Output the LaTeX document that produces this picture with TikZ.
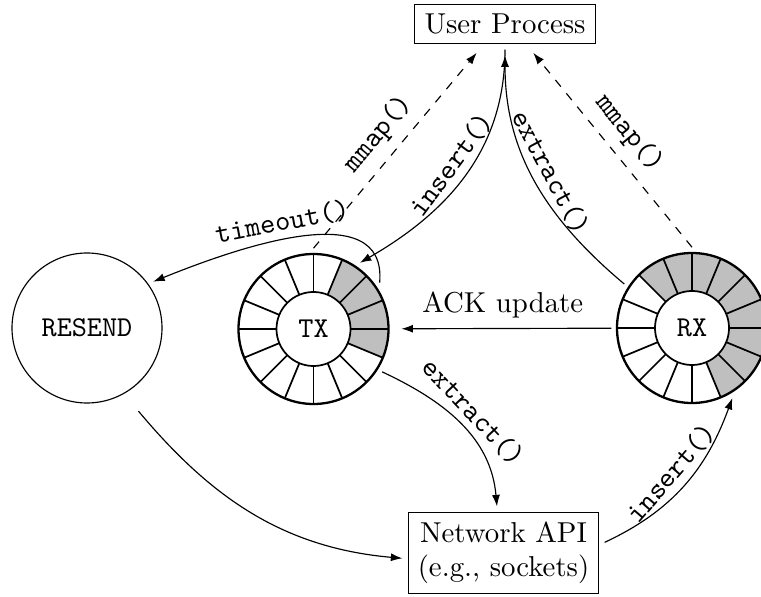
\documentclass[tikz,border=0pt]{standalone}
\usetikzlibrary{arrows.meta,calc}

\definecolor{ringfill}{gray}{0.75}

% Ring buffer: 16 slots between radius 37 and 75, with the listed slots shaded
\newcommand\drawring[2]{%
  \begin{scope}[shift={(#1.center)}]
    \foreach \k in {#2} {
      \fill[ringfill] (\k*22.5:37)
        arc[start angle=\k*22.5, end angle={(\k+1)*22.5}, radius=37]
        -- ({(\k+1)*22.5}:75)
        arc[start angle={(\k+1)*22.5}, end angle=\k*22.5, radius=75] -- cycle;
    }
    \foreach \k in {0,...,15} \draw[semithick] (\k*22.5:37) -- (\k*22.5:75);
    \draw[thick] (0,0) circle[radius=75];
  \end{scope}}

\begin{document}
\begin{tikzpicture}[x=0.3472pt, y=0.3472pt,
  >={Latex[length=4pt,width=2.8pt]},
  box/.style={draw, rectangle, outer sep=2pt},
  ringanchor/.style={circle, minimum size=52.08pt, inner sep=0pt, outer sep=2pt},
  hub/.style={circle, draw, semithick, fill=white, minimum size=25.7pt,
              inner sep=0pt, font=\ttfamily},
  fn/.style={font=\ttfamily, sloped, above, inner sep=2pt},
  link/.style={->},
  maplink/.style={->, dashed}]
\useasboundingbox (0,0) rectangle (761,-597);

% processes and interfaces
\node[box] (user) at (505,-24) {User Process};
\node[box, align=center] (net) at (503.5,-553) {Network API\\(e.g., sockets)};
\node[circle, draw, minimum size=52.08pt, inner sep=0pt, outer sep=2pt,
      font=\ttfamily] (resend) at (87,-328) {RESEND};

% transmit and receive rings
\node[ringanchor] (tx) at (313.5,-329) {};
\node[ringanchor] (rx) at (692,-328) {};
\drawring{tx}{-1,0,1,2}
\drawring{rx}{-3,...,5}
\node[hub] (txhub) at (tx) {TX};
\node[hub] (rxhub) at (rx) {RX};

% shared mappings
\draw[maplink, shorten >=1.5pt] (tx.north) -- node[fn, inner sep=3.33pt] {mmap()} (user.225);
\draw[maplink, shorten >=1.5pt] (rx.north) -- node[fn, inner sep=3.33pt] {mmap()} (user.-45);

% user side calls
\draw[link] (user.south) to[out=-90, in=30] node[fn, pos=0.5] {insert()} (tx.55);
\draw[link, shorten >=2pt] (rx.147) to[out=140, in=-90] node[fn, pos=0.5] {extract()} (user.south);

% retransmission
\draw[link] (tx.35) to[out=85, in=22] node[fn, pos=0.55] {timeout()} (resend.35);
\draw[link, shorten <=6pt] (resend.-60) to[out=-50, in=175] (net.183);

% acknowledgements
\draw[link, shorten >=2.5pt] (rx) -- node[above] {ACK update} (tx);

% network side calls
\draw[link] (tx.-32) to[out=-25, in=95] node[fn, pos=0.5] {extract()} (net.98);
\draw[link] (net.6) to[out=25, in=-110] node[fn, pos=0.5] {insert()} (rx.-60);
\end{tikzpicture}
\end{document}
